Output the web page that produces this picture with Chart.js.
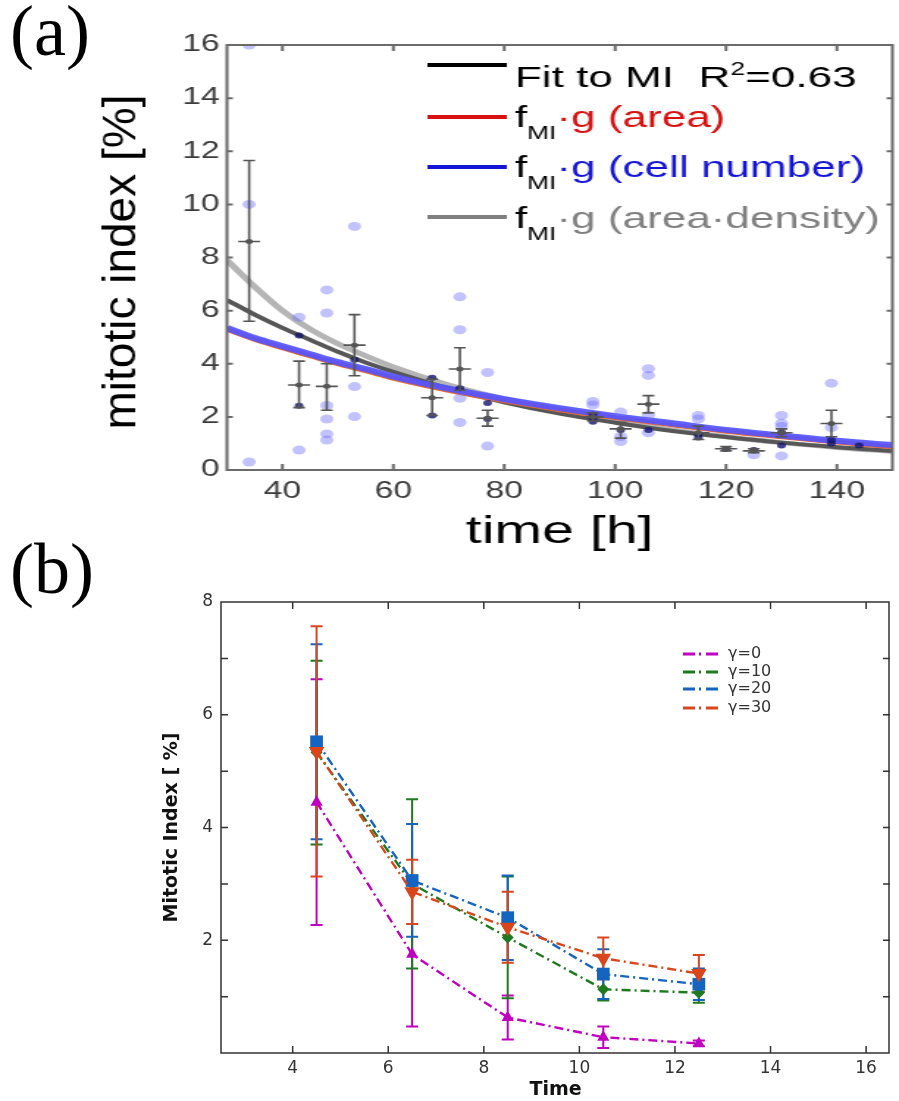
<!DOCTYPE html>
<html>
<head>
<meta charset="utf-8">
<script src="https://cdn.jsdelivr.net/npm/chart.js@4.4.1/dist/chart.umd.min.js"></script>
<style>
  body { margin: 0; background: #fff; }
  #page { position: relative; width: 899px; height: 1101px; overflow: hidden; background: #fff; }
  .panel { position: absolute; left: 10px; font-family: "Liberation Serif", "DejaVu Serif", serif; font-size: 72px; line-height: 72px; color: #000; }
</style>
</head>
<body>
<div id="page">
  <!-- panel (a) is drawn narrow and stretched sideways, like the original figure -->
  <canvas id="chartA" width="612" height="560" style="position:absolute;left:0;top:0;width:899px;height:560px"></canvas>
  <canvas id="chartB" width="899" height="541" style="position:absolute;left:0;top:560px;width:899px;height:541px"></canvas>
  <div class="panel" style="top:-5px">(a)</div>
  <div class="panel" style="top:533px">(b)</div>
</div>
<script>
// ---------- panel (a) ----------
const fitTimes = [30, 35, 40, 45, 50, 55, 60, 70, 80, 90, 100, 110, 120, 130, 140, 150];
const fitMI          = [6.4, 5.85, 5.35, 4.9, 4.45, 4.05, 3.7, 3.07, 2.55, 2.12, 1.78, 1.48, 1.24, 1.03, 0.86, 0.72];
const fitArea        = [5.3, 4.92, 4.6, 4.3, 4.0, 3.74, 3.46, 3.0, 2.61, 2.27, 1.97, 1.71, 1.46, 1.25, 1.05, 0.87];
const fitCellNumber  = [5.35, 4.97, 4.66, 4.36, 4.06, 3.8, 3.52, 3.06, 2.67, 2.33, 2.03, 1.77, 1.51, 1.3, 1.1, 0.94];
const fitAreaDensity = [7.9, 6.9, 6.0, 5.3, 4.75, 4.3, 3.88, 3.2, 2.68, 2.22, 1.85, 1.52, 1.25, 1.03, 0.85, 0.7];

const sampleTimes  = [34, 34, 34, 43, 43, 48, 48, 48, 48, 48, 48, 53, 53, 53, 72, 72, 72, 72, 77, 77, 96, 96,
                      101, 101, 101, 106, 106, 106, 106, 115, 115, 125, 130, 130, 130, 130, 139, 139];
const sampleValues = [16.0, 10.0, 0.3, 5.75, 0.75, 6.78, 5.91, 2.43, 1.92, 1.36, 1.13, 9.17, 3.14, 2.01, 6.52, 5.28, 2.7, 1.79, 3.67, 0.9, 2.58, 2.45,
                      2.18, 1.26, 1.07, 3.81, 3.56, 2.05, 1.4, 2.05, 1.92, 0.57, 2.05, 1.76, 1.64, 0.53, 3.27, 1.6];
const overlapTimes  = [43, 43, 53, 67, 67, 72, 77, 77, 96, 96, 96, 101, 106, 115, 115, 120, 125, 130, 130, 139, 139, 144];
const overlapValues = [5.06, 2.42, 4.15, 3.47, 2.05, 3.08, 2.52, 1.92, 2.08, 1.95, 1.82, 1.51, 1.51, 1.35, 1.22, 0.79, 0.75, 1.42, 0.92, 1.13, 1.0, 0.92];

const meanTimes = [34, 43, 48, 53, 67, 72, 77, 96, 101, 106, 115, 120, 125, 130, 139];
const meanMI    = [8.6, 3.2, 3.15, 4.7, 2.72, 3.8, 1.95, 2.0, 1.55, 2.48, 1.4, 0.8, 0.72, 1.4, 1.75];
const meanLow   = [5.6, 2.35, 2.25, 3.55, 2.05, 3.0, 1.65, 1.85, 1.2, 2.15, 1.15, 0.72, 0.65, 1.25, 1.25];
const meanHigh  = [11.65, 4.1, 4.0, 5.85, 3.42, 4.6, 2.25, 2.15, 1.8, 2.8, 1.65, 0.88, 0.8, 1.55, 2.25];

const xTicksA = [40, 60, 80, 100, 120, 140];
const yTicksA = [0, 2, 4, 6, 8, 10, 12, 14, 16];

// ---------- panel (b) ----------
const timesB = [4.5, 6.5, 8.5, 10.5, 12.5];
const miGamma0  = [4.45, 1.75, 0.63, 0.28, 0.17];
const miGamma10 = [5.33, 3.0, 2.05, 1.13, 1.07];
const miGamma20 = [5.52, 3.06, 2.4, 1.4, 1.22];
const miGamma30 = [5.35, 2.86, 2.23, 1.68, 1.41];
const errGamma0  = [2.18, 1.28, 0.39, 0.19, 0.05];
const errGamma10 = [1.63, 1.5, 1.08, 0.2, 0.18];
const errGamma20 = [1.73, 1.0, 0.75, 0.44, 0.28];
const errGamma30 = [2.22, 0.57, 0.63, 0.37, 0.33];

const xTicksB = [4, 6, 8, 10, 12, 14, 16];
const yTicksB = [2, 4, 6, 8];
const yMinorB = [1, 2, 3, 4, 5, 6, 7];

const arial = "'Liberation Sans', Arial, sans-serif";
const dejavu = "'DejaVu Sans', sans-serif";
const stretchA = 899 / 612;
const pts = (xs, ys) => xs.map((x, i) => ({ x: x, y: ys[i] }));

// box round the plot with inward tick marks
const framePlugin = {
  id: 'frame',
  afterDraw(chart, args, o) {
    const { ctx, chartArea: a, scales: { x, y } } = chart;
    ctx.save();
    ctx.strokeStyle = o.color;
    ctx.lineWidth = o.width;
    ctx.beginPath();
    o.xTicks.forEach(v => {
      const px = x.getPixelForValue(v);
      ctx.moveTo(px, a.bottom); ctx.lineTo(px, a.bottom - o.xLen);
      ctx.moveTo(px, a.top); ctx.lineTo(px, a.top + o.xLen);
    });
    o.yTicks.forEach(v => {
      const py = y.getPixelForValue(v);
      ctx.moveTo(a.left, py); ctx.lineTo(a.left + o.yLen, py);
      ctx.moveTo(a.right, py); ctx.lineTo(a.right - o.yLen, py);
    });
    ctx.stroke();
    ctx.strokeRect(a.left, a.top, a.right - a.left - o.inset, a.bottom - a.top);
    ctx.restore();
  }
};

// panel (a): spread of the measured MI at each time
const spreadPlugin = {
  id: 'spread',
  afterDatasetsDraw(chart) {
    const { ctx, scales: { x, y } } = chart;
    ctx.save();
    ctx.strokeStyle = '#555';
    ctx.lineWidth = 1.6;
    ctx.beginPath();
    meanTimes.forEach((t, i) => {
      const px = x.getPixelForValue(t);
      const pl = y.getPixelForValue(meanLow[i]);
      const ph = y.getPixelForValue(meanHigh[i]);
      const pm = y.getPixelForValue(meanMI[i]);
      ctx.moveTo(px, pl); ctx.lineTo(px, ph);
      ctx.moveTo(px - 4, pl); ctx.lineTo(px + 4, pl);
      ctx.moveTo(px - 4, ph); ctx.lineTo(px + 4, ph);
      ctx.moveTo(px - 7.5, pm); ctx.lineTo(px + 7.5, pm);
    });
    ctx.stroke();
    ctx.restore();
  }
};

// panel (a) y title, drawn without the sideways stretch
const yTitleA = {
  id: 'yTitleA',
  afterDraw(chart) {
    const ctx = chart.ctx;
    ctx.save();
    ctx.translate(135 / stretchA, 262);
    ctx.scale(1 / stretchA, 1);
    ctx.rotate(-Math.PI / 2);
    ctx.font = '46px ' + arial;
    ctx.fillStyle = '#000';
    ctx.textAlign = 'center';
    ctx.textBaseline = 'alphabetic';
    ctx.fillText('mitotic index [%]', 0, 0);
    ctx.restore();
  }
};

// panel (a) legend, with sub- and superscripts
const legendRowsA = [
  { line: '#000000', ly: 65, base: 87, parts: [['Fit to MI  R', '#000'], ['2', '#000', 'sup'], ['=0.63', '#000']] },
  { line: '#d81010', ly: 117, base: 127, parts: [['f', '#000'], ['MI', '#000', 'sub'], ['\u00b7g (area)', '#d81010']] },
  { line: '#1414d8', ly: 167, base: 177, parts: [['f', '#000'], ['MI', '#000', 'sub'], ['\u00b7g (cell number)', '#1414d8']] },
  { line: '#7f7f7f', ly: 217, base: 228, parts: [['f', '#000'], ['MI', '#000', 'sub'], ['\u00b7g (area\u00b7density)', '#808080']] }
];
const legendAPlugin = {
  id: 'legendA',
  afterDraw(chart) {
    const ctx = chart.ctx;
    ctx.save();
    ctx.textBaseline = 'alphabetic';
    ctx.textAlign = 'left';
    legendRowsA.forEach(r => {
      ctx.strokeStyle = r.line;
      ctx.lineWidth = 4;
      ctx.beginPath();
      ctx.moveTo(291, r.ly); ctx.lineTo(345, r.ly);
      ctx.stroke();
      let x = 350.5;
      r.parts.forEach(([t, c, kind]) => {
        let size = 30, dy = 0;
        if (kind === 'sub') { size = 18; dy = 12; }
        if (kind === 'sup') { size = 18; dy = -12; }
        ctx.font = size + 'px ' + arial;
        ctx.fillStyle = c;
        ctx.fillText(t, x, r.base + dy);
        x += ctx.measureText(t).width;
      });
    });
    ctx.restore();
  }
};

new Chart(document.getElementById('chartA'), {
  type: 'scatter',
  data: {
    datasets: [
      { label: 'mean', data: pts(meanTimes, meanMI), pointRadius: 2.5, backgroundColor: '#555', borderWidth: 0 },
      { label: 'overlap', data: pts(overlapTimes, overlapValues), pointRadius: 3, backgroundColor: 'rgba(20,20,110,0.8)', borderWidth: 0 },
      { label: 'samples', data: pts(sampleTimes, sampleValues), pointRadius: 4.5, backgroundColor: 'rgba(110,110,255,0.42)', borderWidth: 0 },
      { label: 'cell number', data: pts(fitTimes, fitCellNumber), showLine: true, pointRadius: 0, borderColor: 'rgba(85,85,255,0.92)', borderWidth: 6, cubicInterpolationMode: 'monotone' },
      { label: 'area', data: pts(fitTimes, fitArea), showLine: true, pointRadius: 0, borderColor: '#e0683a', borderWidth: 5, cubicInterpolationMode: 'monotone' },
      { label: 'Fit to MI', data: pts(fitTimes, fitMI), showLine: true, pointRadius: 0, borderColor: '#575757', borderWidth: 4, cubicInterpolationMode: 'monotone' },
      { label: 'area density', data: pts(fitTimes, fitAreaDensity), showLine: true, pointRadius: 0, borderColor: '#b5b5b5', borderWidth: 5, cubicInterpolationMode: 'monotone' }
    ]
  },
  options: {
    responsive: false,
    animation: false,
    events: [],
    layout: { padding: { top: 45, left: 0, right: 0, bottom: 0 } },
    plugins: {
      legend: { display: false },
      tooltip: { enabled: false },
      frame: { color: '#6b6b6b', width: 2, xTicks: xTicksA, yTicks: yTicksA.slice(1, -1), xLen: 6, yLen: 4, inset: 0 }
    },
    scales: {
      x: {
        type: 'linear', min: 30, max: 150,
        afterBuildTicks: s => { s.ticks = xTicksA.map(v => ({ value: v })); },
        afterFit: s => { s.height = 90; },
        grid: { display: false, drawTicks: false },
        border: { display: false },
        ticks: { font: { family: arial, size: 23 }, color: '#3c3c3c', padding: 8 },
        title: { display: true, text: 'time [h]', color: '#000', font: { family: arial, size: 39 }, padding: { top: 0, bottom: 4 } }
      },
      y: {
        min: 0, max: 16,
        afterBuildTicks: s => { s.ticks = yTicksA.map(v => ({ value: v })); },
        afterFit: s => { s.width = 154.5; },
        grid: { display: false, drawTicks: false },
        border: { display: false },
        ticks: { font: { family: arial, size: 23 }, color: '#3c3c3c', padding: 5 }
      }
    }
  },
  plugins: [framePlugin, spreadPlugin, yTitleA, legendAPlugin]
});

// ---------- panel (b) chart ----------
const seriesB = [
  { name: '\u03b3=0',  color: '#c000c0', mi: miGamma0,  err: errGamma0 },
  { name: '\u03b3=10', color: '#1f7a1f', mi: miGamma10, err: errGamma10 },
  { name: '\u03b3=20', color: '#1565c0', mi: miGamma20, err: errGamma20 },
  { name: '\u03b3=30', color: '#d9461c', mi: miGamma30, err: errGamma30 }
];
const dashB = [9, 4, 2, 4];

const errorBarsB = {
  id: 'errorBarsB',
  beforeDatasetsDraw(chart) {
    const { ctx, scales: { x, y } } = chart;
    ctx.save();
    ctx.lineWidth = 2;
    seriesB.forEach(s => {
      ctx.strokeStyle = s.color;
      ctx.beginPath();
      timesB.forEach((t, i) => {
        const px = x.getPixelForValue(t);
        const pl = y.getPixelForValue(s.mi[i] - s.err[i]);
        const ph = y.getPixelForValue(s.mi[i] + s.err[i]);
        ctx.moveTo(px, pl); ctx.lineTo(px, ph);
        ctx.moveTo(px - 6, pl); ctx.lineTo(px + 6, pl);
        ctx.moveTo(px - 6, ph); ctx.lineTo(px + 6, ph);
      });
      ctx.stroke();
    });
    ctx.restore();
  }
};

const legendB = {
  id: 'legendB',
  afterDraw(chart) {
    const ctx = chart.ctx;
    ctx.save();
    ctx.font = '16px ' + dejavu;
    ctx.textBaseline = 'middle';
    ctx.textAlign = 'left';
    const rowsY = [94, 112, 129, 148];
    seriesB.forEach((s, i) => {
      ctx.strokeStyle = s.color;
      ctx.lineWidth = 3;
      ctx.setLineDash([12, 4, 2, 5]);
      ctx.beginPath();
      ctx.moveTo(683, rowsY[i]); ctx.lineTo(718, rowsY[i]);
      ctx.stroke();
      ctx.fillStyle = '#333';
      ctx.fillText(s.name, 728, rowsY[i]);
    });
    ctx.restore();
  }
};

const markerB = [
  { style: 'triangle', r: 7, rot: 0 },
  { style: 'rectRot', r: 6, rot: 0 },
  { style: 'rect', r: 9, rot: 0 },
  { style: 'triangle', r: 9, rot: 180 }
];

new Chart(document.getElementById('chartB'), {
  type: 'scatter',
  data: {
    // first dataset is painted last, so gamma=30 goes first
    datasets: seriesB.map((s, i) => ({
      label: s.name,
      data: pts(timesB, s.mi),
      showLine: true,
      borderColor: s.color,
      backgroundColor: s.color,
      borderWidth: 2.4,
      borderDash: dashB,
      pointStyle: markerB[i].style,
      pointRadius: markerB[i].r,
      pointRotation: markerB[i].rot,
      pointBorderWidth: 0
    })).reverse()
  },
  options: {
    responsive: false,
    animation: false,
    events: [],
    layout: { padding: { top: 42, left: 0, right: 0, bottom: 0 } },
    plugins: {
      legend: { display: false },
      tooltip: { enabled: false },
      frame: { color: '#333', width: 1.5, xTicks: xTicksB, yTicks: yMinorB, xLen: 7, yLen: 7, inset: 1 }
    },
    scales: {
      x: {
        type: 'linear', min: 2.5, max: 16.5,
        afterBuildTicks: s => { s.ticks = xTicksB.map(v => ({ value: v })); },
        afterFit: s => { s.height = 48; },
        grid: { display: false, drawTicks: false },
        border: { display: false },
        ticks: { font: { family: dejavu, size: 17 }, color: '#333', padding: 5 },
        title: { display: true, text: 'Time', color: '#111', font: { family: dejavu, size: 19, weight: 'bold' }, padding: { top: 0, bottom: 0 } }
      },
      y: {
        min: 0, max: 8,
        afterBuildTicks: s => { s.ticks = yTicksB.map(v => ({ value: v })); },
        afterFit: s => { s.width = 221; },
        grid: { display: false, drawTicks: false },
        border: { display: false },
        ticks: { font: { family: dejavu, size: 17 }, color: '#333', padding: 8 },
        title: { display: true, text: 'Mitotic Index [ %]', color: '#111', font: { family: dejavu, size: 19, weight: 'bold' }, padding: { top: 161, bottom: 0 } }
      }
    }
  },
  plugins: [framePlugin, errorBarsB, legendB]
});
</script>
</body>
</html>
